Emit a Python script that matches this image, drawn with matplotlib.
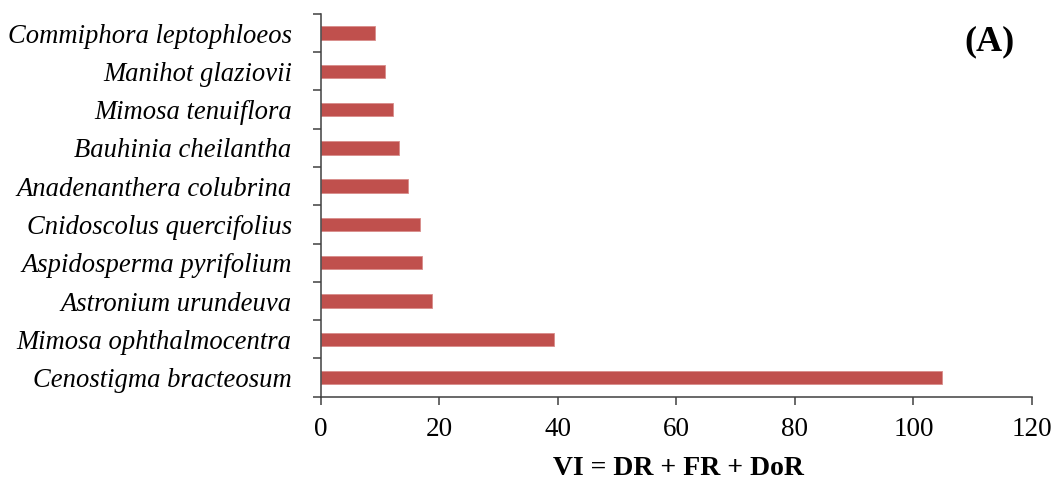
import numpy as np
import matplotlib
matplotlib.use('Agg')
from matplotlib import pyplot as plt
from matplotlib.ticker import FixedLocator

# species, bottom to top
species = ['Cenostigma bracteosum', 'Mimosa ophthalmocentra', 'Astronium urundeuva',
           'Aspidosperma pyrifolium', 'Cnidoscolus quercifolius', 'Anadenanthera colubrina',
           'Bauhinia cheilantha', 'Mimosa tenuiflora', 'Manihot glaziovii',
           'Commiphora leptophloeos']
vi = [104.8, 39.4, 18.7, 17.1, 16.8, 14.7, 13.1, 12.2, 10.8, 9.2]
xticks = [0, 20, 40, 60, 80, 100, 120]

plt.rcParams['font.family'] = 'Liberation Serif'

fig = plt.figure(figsize=(10.59, 4.8), dpi=100)
ax = fig.add_axes([0.303, 0.1735, 0.6715, 0.7975])

y = np.arange(len(species))
ax.barh(y, vi, height=0.35, color='#C0504D', edgecolor='#D98C8A', linewidth=0.6)

ax.set_xlim(0, 120)
ax.set_ylim(-0.5, len(species) - 0.5)
ax.set_xticks(xticks)
ax.set_xticklabels([str(t) for t in xticks], fontsize=19.5)
ax.set_yticks(y)
ax.set_yticklabels(species, fontsize=19.2, style='italic')
ax.yaxis.set_minor_locator(FixedLocator(np.arange(-0.5, len(species), 1.0)))
ax.tick_params(axis='y', which='major', length=0, pad=21)
ax.tick_params(axis='y', which='minor', length=5.8, width=1.1, color='#404040')
ax.tick_params(axis='x', length=5.8, width=1.1, color='#404040', pad=9)

for s in ['top', 'right']:
    ax.spines[s].set_visible(False)
for s in ['left', 'bottom']:
    ax.spines[s].set_color('#404040')
    ax.spines[s].set_linewidth(1.1)

ax.set_xlabel('VI = DR + FR + DoR', fontsize=20, fontweight='bold', labelpad=8)
ax.xaxis.set_label_coords(0.503, -0.155, transform=ax.transAxes)
ax.xaxis.label.set_va('top')
ax.text(0.976, 0.927, '(A)', transform=ax.transAxes, fontsize=26, fontweight='bold',
        ha='right', va='center')

fig.savefig('out.png', dpi=100)
